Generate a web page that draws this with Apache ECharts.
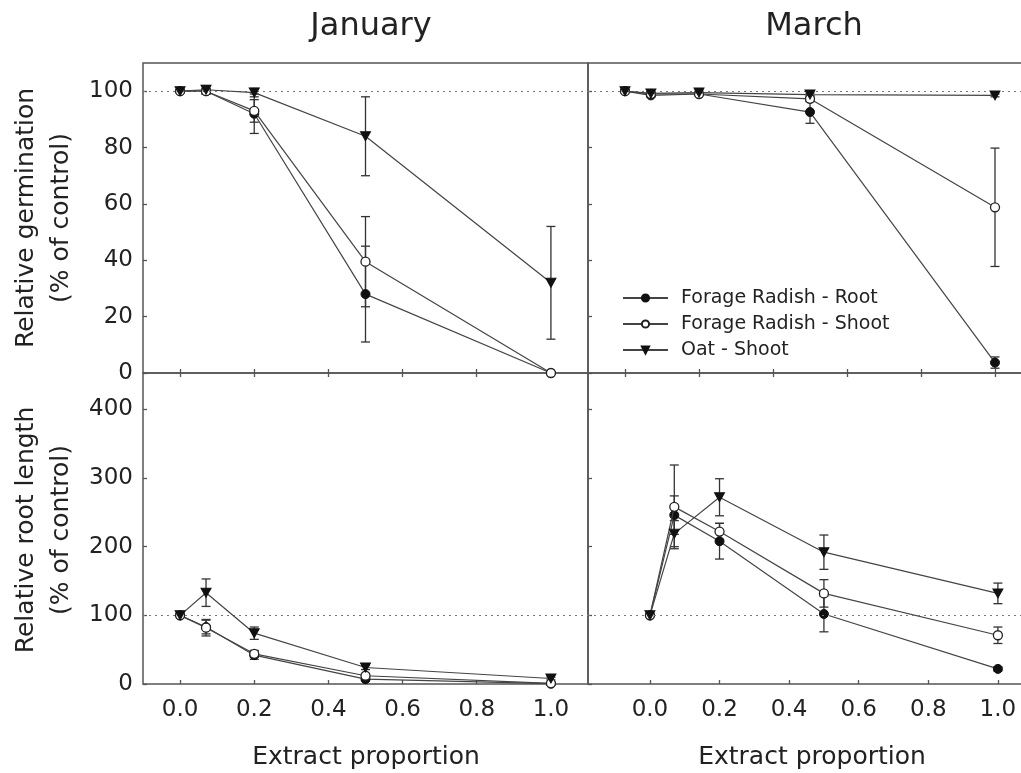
<!DOCTYPE html>
<html>
<head>
<meta charset="utf-8">
<script src="https://cdn.jsdelivr.net/npm/echarts@6/dist/echarts.min.js"></script>
<style>
  html, body { margin: 0; padding: 0; background: #fff; }
  #chart { width: 1021px; height: 773px; }
</style>
</head>
<body>
<div id="chart"></div>
<script>
// Extract proportions used in every panel
const xValues = [0, 0.07, 0.2, 0.5, 1.0];
const seriesNames = ['Forage Radish - Root', 'Forage Radish - Shoot', 'Oat - Shoot'];
const panelTitles = ['January', 'March'];

// Relative germination (% of control), January
const janGermRoot = [100, 100, 92, 28, 0];
const janGermRootErr = [0, 1, 7, 17, 0];
const janGermShoot = [100, 100, 93, 39.5, 0];
const janGermShootErr = [0, 1, 4, 16, 0];
const janGermOat = [100, 100.5, 99.5, 84, 32];
const janGermOatErr = [0, 1.5, 1.5, 14, 20];

// Relative germination (% of control), March
const marGermRoot = [100, 98.5, 99, 92.6, 3.7];
const marGermRootErr = [0, 0.5, 0.5, 4, 2];
const marGermShoot = [100, 99, 99, 97.3, 58.8];
const marGermShootErr = [0, 0.5, 0.5, 1, 21];
const marGermOat = [100, 99.2, 99.5, 98.8, 98.5];
const marGermOatErr = [0, 0.5, 0.5, 0.5, 0.5];

// Relative root length (% of control), January
const janRootRoot = [100, 83, 42, 7, 0.5];
const janRootRootErr = [0, 10, 6, 2, 0.5];
const janRootShoot = [100, 82, 44, 12, 1];
const janRootShootErr = [0, 12, 5, 2, 1];
const janRootOat = [100, 133, 74, 24, 8];
const janRootOatErr = [0, 20, 9, 3, 2];

// Relative root length (% of control), March
const marRootRoot = [100, 246, 208, 102, 22];
const marRootRootErr = [0, 28, 26, 26, 3];
const marRootShoot = [100, 258, 222, 132, 71];
const marRootShootErr = [0, 61, 12, 20, 12];
const marRootOat = [100, 219, 272, 192, 132];
const marRootOatErr = [0, 19, 27, 25, 15];

// Tick values
const xTicks = [0, 0.2, 0.4, 0.6, 0.8, 1.0];
const germTicks = [0, 20, 40, 60, 80, 100];
const rootTicks = [0, 100, 200, 300, 400];
const controlLevel = 100;

const FONT = 'DejaVu Sans';
const INK = '#222';
const FRAME = '#555';
const LINE = '#444';

const symbols = [
  { symbol: 'circle', symbolSize: 9, symbolRotate: 0, itemStyle: { color: '#111', borderColor: '#111', borderWidth: 1 } },
  { symbol: 'circle', symbolSize: 9, symbolRotate: 0, itemStyle: { color: '#fff', borderColor: '#222', borderWidth: 1.3 } },
  { symbol: 'triangle', symbolSize: [10, 9], symbolRotate: 180, itemStyle: { color: '#111', borderColor: '#111', borderWidth: 1 } }
];

const panels = [
  { grid: 0, values: [janGermRoot, janGermShoot, janGermOat], errs: [janGermRootErr, janGermShootErr, janGermOatErr] },
  { grid: 1, values: [marGermRoot, marGermShoot, marGermOat], errs: [marGermRootErr, marGermShootErr, marGermOatErr] },
  { grid: 2, values: [janRootRoot, janRootShoot, janRootOat], errs: [janRootRootErr, janRootShootErr, janRootOatErr] },
  { grid: 3, values: [marRootRoot, marRootShoot, marRootOat], errs: [marRootRootErr, marRootShootErr, marRootOatErr] }
];

function errorBarItem(params, api) {
  const x = api.value(0), y = api.value(1), e = api.value(2);
  if (!e) return null;
  const hi = api.coord([x, y + e]);
  const lo = api.coord([x, y - e]);
  const hw = 4.5;
  const style = { stroke: '#333', lineWidth: 1.3, fill: null };
  return {
    type: 'group',
    children: [
      { type: 'line', shape: { x1: hi[0], y1: hi[1], x2: lo[0], y2: lo[1] }, style },
      { type: 'line', shape: { x1: hi[0] - hw, y1: hi[1], x2: hi[0] + hw, y2: hi[1] }, style },
      { type: 'line', shape: { x1: lo[0] - hw, y1: lo[1], x2: lo[0] + hw, y2: lo[1] }, style }
    ]
  };
}

const series = [];
panels.forEach(function (p) {
  p.values.forEach(function (vals, k) {
    const s = symbols[k];
    series.push({
      type: 'custom',
      name: 'err-' + p.grid + '-' + k,
      xAxisIndex: p.grid,
      yAxisIndex: p.grid,
      renderItem: errorBarItem,
      encode: { x: 0, y: 1 },
      data: xValues.map(function (x, i) { return [x, vals[i], p.errs[k][i]]; }),
      z: 2,
      silent: true
    });
    const line = {
      type: 'line',
      name: seriesNames[k],
      xAxisIndex: p.grid,
      yAxisIndex: p.grid,
      data: xValues.map(function (x, i) { return [x, vals[i]]; }),
      symbol: s.symbol,
      symbolSize: s.symbolSize,
      symbolRotate: s.symbolRotate,
      showAllSymbol: true,
      lineStyle: { color: LINE, width: 1.2 },
      itemStyle: s.itemStyle,
      z: 3 + k,
      clip: false,
      silent: true,
      animation: false
    };
    if (k === 0) {
      line.markLine = {
        silent: true,
        symbol: 'none',
        label: { show: false },
        lineStyle: { color: '#777', type: [2, 4], width: 1.2 },
        data: [{ yAxis: controlLevel }],
        animation: false
      };
    }
    series.push(line);
  });
});

const tickStyle = { color: FRAME, width: 1.3 };
const xLabelFmt = function (v) { return Number(v).toFixed(1); };

function xAxisDef(grid, min, max, showLabels, position) {
  return {
    type: 'value', gridIndex: grid, min: min, max: max, position: position || 'bottom',
    axisLine: { show: false, onZero: false },
    splitLine: { show: false },
    axisTick: { show: true, inside: true, length: 4, lineStyle: tickStyle, customValues: xTicks },
    axisLabel: {
      show: showLabels, customValues: xTicks, formatter: xLabelFmt, margin: 15,
      fontFamily: FONT, fontSize: 23, color: INK
    }
  };
}

function yAxisDef(grid, max, ticks, showLabels) {
  return {
    type: 'value', gridIndex: grid, min: 0, max: max, position: 'left',
    axisLine: { show: false, onZero: false },
    splitLine: { show: false },
    axisTick: { show: true, inside: true, length: 4, lineStyle: tickStyle, customValues: ticks },
    axisLabel: {
      show: showLabels, customValues: ticks, margin: 10,
      fontFamily: FONT, fontSize: 23, color: INK
    }
  };
}

const gridStyle = {
  show: true, borderColor: FRAME, borderWidth: 1.5, backgroundColor: 'transparent',
  containLabel: false, outerBoundsMode: 'none'
};

const option = {
  animation: false,
  backgroundColor: '#fff',
  grid: [
    Object.assign({ left: 143, top: 63, width: 445, height: 310 }, gridStyle),
    Object.assign({ left: 588, top: 63, width: 444, height: 310 }, gridStyle),
    Object.assign({ left: 143, top: 373, width: 445, height: 311 }, gridStyle),
    Object.assign({ left: 588, top: 373, width: 444, height: 311 }, gridStyle)
  ],
  xAxis: [
    xAxisDef(0, -0.1, 1.1, false),
    xAxisDef(1, -0.1, 1.1, false),
    xAxisDef(2, -0.1, 1.1, true),
    xAxisDef(3, -0.178, 1.098, true),
    // ticks of the upper panels continue just below the shared border
    xAxisDef(2, -0.1, 1.1, false, 'top'),
    xAxisDef(3, -0.1, 1.1, false, 'top')
  ],
  yAxis: [
    yAxisDef(0, 110, germTicks, true),
    yAxisDef(1, 110, germTicks, false),
    yAxisDef(2, 453, rootTicks, true),
    yAxisDef(3, 453, rootTicks, false)
  ],
  legend: {
    data: seriesNames,
    orient: 'vertical',
    left: 622,
    top: 288,
    padding: 0,
    itemWidth: 45,
    itemHeight: 9,
    itemGap: 6,
    inactiveColor: '#ccc',
    textStyle: { fontFamily: FONT, fontSize: 19, color: INK, lineHeight: 20, padding: [0, 0, 0, 8] }
  },
  graphic: [
    { type: 'text', x: 371, y: 27, silent: true,
      style: { text: panelTitles[0], font: '32px "DejaVu Sans"', fill: INK, align: 'center', verticalAlign: 'middle' } },
    { type: 'text', x: 814, y: 27, silent: true,
      style: { text: panelTitles[1], font: '32px "DejaVu Sans"', fill: INK, align: 'center', verticalAlign: 'middle' } },
    { type: 'text', x: 44, y: 218, rotation: Math.PI / 2, silent: true,
      style: { text: 'Relative germination\n(% of control)', font: '25px "DejaVu Sans"', lineHeight: 35, fill: INK, align: 'center', verticalAlign: 'middle' } },
    { type: 'text', x: 44, y: 530, rotation: Math.PI / 2, silent: true,
      style: { text: 'Relative root length\n(% of control)', font: '25px "DejaVu Sans"', lineHeight: 35, fill: INK, align: 'center', verticalAlign: 'middle' } },
    { type: 'text', x: 366, y: 757, silent: true,
      style: { text: 'Extract proportion', font: '25px "DejaVu Sans"', fill: INK, align: 'center', verticalAlign: 'middle' } },
    { type: 'text', x: 812, y: 757, silent: true,
      style: { text: 'Extract proportion', font: '25px "DejaVu Sans"', fill: INK, align: 'center', verticalAlign: 'middle' } }
  ],
  series: series
};

const chart = echarts.init(document.getElementById('chart'), null, { renderer: 'canvas' });
chart.setOption(option);
</script>
</body>
</html>
